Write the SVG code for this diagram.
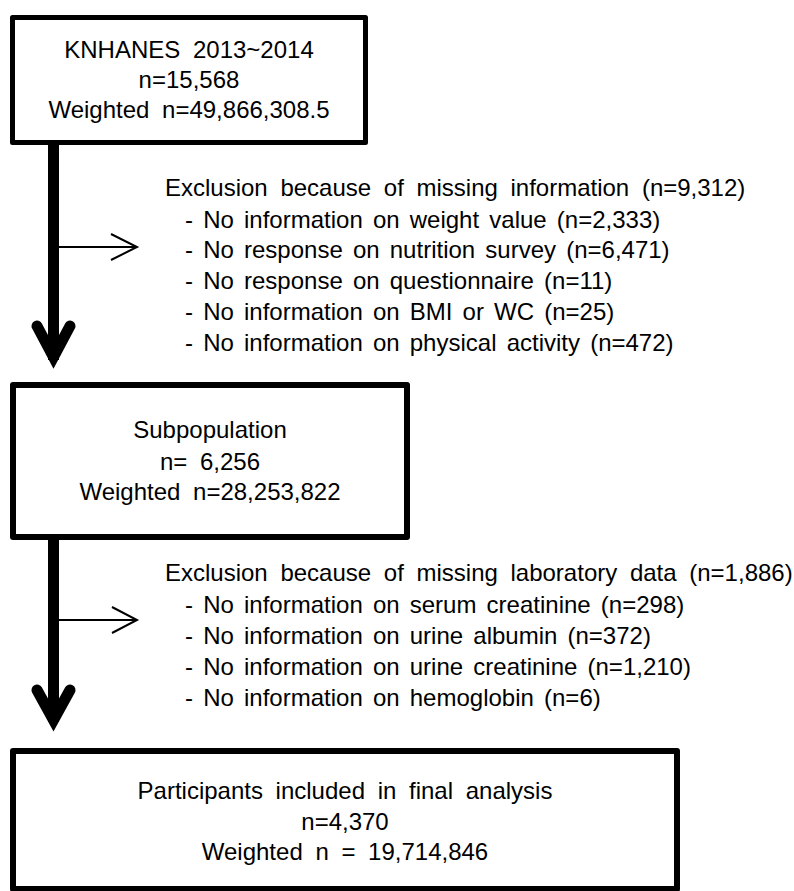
<svg xmlns="http://www.w3.org/2000/svg" width="794" height="891" viewBox="0 0 794 891">
<style>
  text { font-family: "Liberation Sans", Arial, sans-serif; font-size: 24px; fill: #000; word-spacing: 6px; }
  text.b { word-spacing: 3.5px; }
  .c { text-anchor: middle; }
  .box { fill: #fff; stroke: #000; stroke-linejoin: round; }
  .thick { fill: none; stroke: #000; stroke-width: 11; }
  .thin { fill: none; stroke: #000; stroke-width: 2; }
</style>
<rect width="794" height="891" fill="#fff"/>
<g id="connectors">
  <line class="thick" x1="53.5" y1="143" x2="53.5" y2="360"/>
  <polyline class="thick" points="37,326 53.5,357 70,326" stroke-linecap="round" stroke-linejoin="miter" stroke-miterlimit="10"/>
  <line class="thin" x1="59" y1="247" x2="137" y2="247"/>
  <polyline class="thin" points="111,234 137,247 111,260"/>
  <line class="thick" x1="53.5" y1="537" x2="53.5" y2="722"/>
  <polyline class="thick" points="37,690 53.5,720 70,690" stroke-linecap="round" stroke-linejoin="miter" stroke-miterlimit="10"/>
  <line class="thin" x1="59" y1="620" x2="137" y2="620"/>
  <polyline class="thin" points="112,607 137,620 112,633"/>
</g>
<g id="node-knhanes">
  <rect class="box" x="12.5" y="17.5" width="353" height="125" stroke-width="5"/>
  <text class="c" x="189" y="58">KNHANES 2013~2014</text>
  <text class="c" x="189" y="88">n=15,568</text>
  <text class="c" x="189" y="118">Weighted n=49,866,308.5</text>
</g>
<g id="exclusion-1">
  <text x="165" y="196">Exclusion because of missing information (n=9,312)</text>
  <text class="b" x="185" y="228">- No information on weight value (n=2,333)</text>
  <text class="b" x="185" y="258">- No response on nutrition survey (n=6,471)</text>
  <text class="b" x="185" y="289">- No response on questionnaire (n=11)</text>
  <text class="b" x="185" y="320">- No information on BMI or WC (n=25)</text>
  <text class="b" x="185" y="351">- No information on physical activity (n=472)</text>
</g>
<g id="node-subpopulation">
  <rect class="box" x="13" y="385" width="394" height="152" stroke-width="6"/>
  <text class="c" x="210" y="438">Subpopulation</text>
  <text class="c" x="210" y="470">n= 6,256</text>
  <text class="c" x="210" y="500">Weighted n=28,253,822</text>
</g>
<g id="exclusion-2">
  <text x="165" y="581">Exclusion because of missing laboratory data (n=1,886)</text>
  <text class="b" x="185" y="613">- No information on serum creatinine (n=298)</text>
  <text class="b" x="185" y="644">- No information on urine albumin (n=372)</text>
  <text class="b" x="185" y="675">- No information on urine creatinine (n=1,210)</text>
  <text class="b" x="185" y="706">- No information on hemoglobin (n=6)</text>
</g>
<g id="node-final">
  <rect class="box" x="13" y="751" width="664" height="138" stroke-width="6"/>
  <text class="c" x="345" y="799">Participants included in final analysis</text>
  <text class="c" x="345" y="830">n=4,370</text>
  <text class="c" x="345" y="860">Weighted n = 19,714,846</text>
</g>
</svg>
